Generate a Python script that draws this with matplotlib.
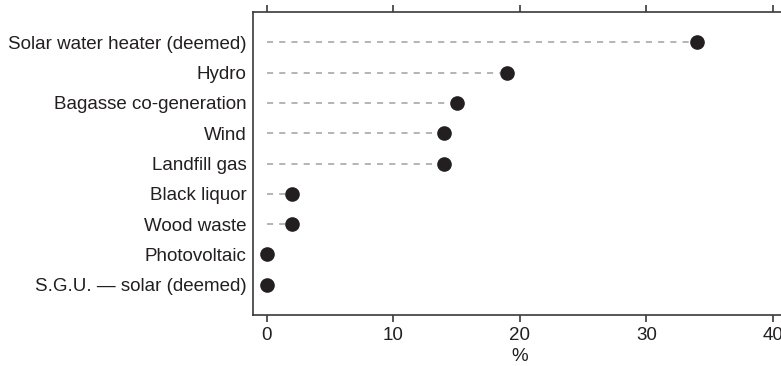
import numpy as np
import matplotlib.pyplot as plt
import matplotlib

matplotlib.rcParams['font.family'] = 'Liberation Sans'
matplotlib.rcParams['font.size'] = 13.5

# 数据
labels = ['Solar water heater (deemed)', 'Hydro', 'Bagasse co-generation', 'Wind',
          'Landfill gas', 'Black liquor', 'Wood waste', 'Photovoltaic',
          'S.G.U. \u2014 solar (deemed)']
values = [34, 19, 15, 14, 14, 2, 2, 0, 0]
xticks = [0, 10, 20, 30, 40]

fig = plt.figure(figsize=(7.81, 3.66), dpi=100)
ax = fig.add_axes([253/781, 51/366, 1 - 253/781, 303/366])

ypos = np.arange(len(labels))[::-1]
for y, v in zip(ypos, values):
    if v > 0:
        ax.plot([0, v - 0.6], [y, y], color='#a0a0a0', lw=1.1, ls=(0, (4, 4)), zorder=1)
ax.plot(values, ypos, 'o', color='#231f20', markersize=9.5, zorder=2)

xmin, xmax = -1.1, 40.65
ax.set_xlim(xmin, xmax)
ax.set_ylim(-1, 9)
ax.set_yticks(ypos)
ax.set_yticklabels(labels, color='#231f20')
ax.set_xticks(xticks)
ax.set_xticklabels([str(t) for t in xticks], color='#231f20')
ax.set_xlabel('%', color='#231f20')
# 轴标签放在20刻度下
ax.xaxis.set_label_coords((20 - xmin) / (xmax - xmin), -0.11)

ax.spines['right'].set_visible(False)
for s in ['left', 'top', 'bottom']:
    ax.spines[s].set_color('#3a3a3a')
    ax.spines[s].set_linewidth(1.2)
ax.tick_params(axis='y', length=0, pad=4.5)
ax.tick_params(axis='x', direction='out', length=5, width=1.2, color='#3a3a3a',
               top=True, labeltop=False, pad=4)

plt.savefig('out.png', dpi=100)
